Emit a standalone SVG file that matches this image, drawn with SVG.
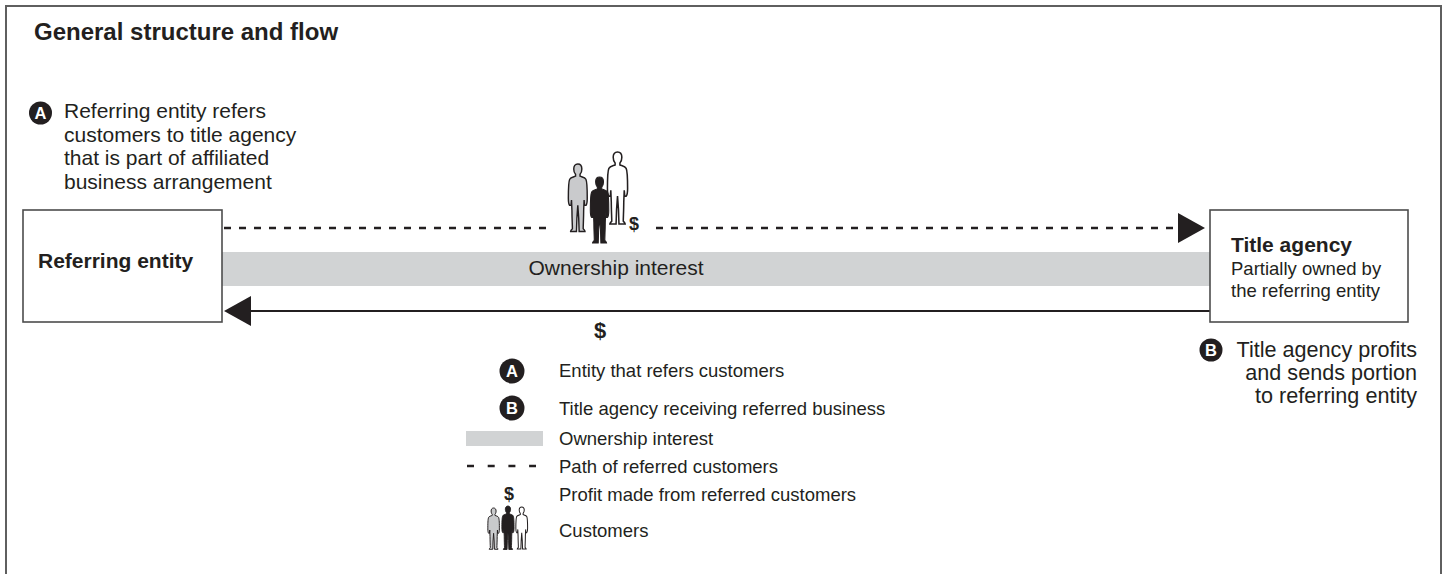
<svg xmlns="http://www.w3.org/2000/svg" xmlns:xlink="http://www.w3.org/1999/xlink" width="1447" height="574" viewBox="0 0 1447 574">
  <style>
    text { font-family: "Liberation Sans", Arial, Helvetica, sans-serif; fill: #231f20; }
    .title { font-size: 24px; font-weight: bold; }
    .note { font-size: 21px; }
    .noteR { font-size: 21.6px; text-anchor: end; }
    .bold { font-weight: bold; }
    .box { fill: #ffffff; stroke: #4d4d4d; stroke-width: 1.6; }
    .badge { fill: #231f20; }
    .badgeText { font-size: 16.5px; font-weight: bold; fill: #ffffff; text-anchor: middle; }
    .legend { font-size: 18.5px; }
    .dash { stroke: #231f20; stroke-width: 2.5; stroke-dasharray: 7 8; fill: none; }
    .solid { stroke: #231f20; stroke-width: 2; fill: none; }
    .band { fill: #d1d3d4; }
    .pGray { fill: #c9cacc; stroke: #231f20; }
    .pBlack { fill: #231f20; stroke: #231f20; }
    .pWhite { fill: #ffffff; stroke: #231f20; }
  </style>
  <defs>
    <path id="person" d="M12,0 C15,0 16.5,2.5 16.5,5.5 C16.5,8.5 15.5,10.5 14.5,11.5 L14.5,13.5 C17,14.5 20,15 21,17 C22.5,20 22.5,30 22.5,38 C22.5,42 22,45 21,46 L19.5,46 L19,40 L18.5,52 C18.5,60 18,68 18,72 C19,73 20,74 20,75 L13.5,75 L13,60 L12,46 L11,60 L10.5,75 L4,75 C4,74 5,73 6,72 C6,68 5.5,60 5.5,52 L5,40 L4.5,46 L3,46 C2,45 1.5,42 1.5,38 C1.5,30 1.5,20 3,17 C4,15 7,14.5 9.5,13.5 L9.5,11.5 C8.5,10.5 7.5,8.5 7.5,5.5 C7.5,2.5 9,0 12,0 Z"/>
  </defs>

  <!-- outer frame -->
  <rect x="6" y="6" width="1435" height="600" fill="#ffffff" stroke="#5f5f5f" stroke-width="2"/>

  <text class="title" x="34" y="40">General structure and flow</text>

  <!-- annotation A -->
  <g id="note-a">
    <circle class="badge" cx="40.5" cy="113" r="11.5"/>
    <text class="badgeText" x="40.5" y="119">A</text>
    <text class="note" x="64" y="118">Referring entity refers</text>
    <text class="note" x="64" y="141.5">customers to title agency</text>
    <text class="note" x="64" y="165">that is part of affiliated</text>
    <text class="note" x="64" y="188.5">business arrangement</text>
  </g>

  <!-- connectors -->
  <g id="connectors">
    <rect class="band" x="222" y="252" width="988" height="34"/>
    <text class="note" x="616" y="275" text-anchor="middle">Ownership interest</text>
    <line class="dash" x1="224" y1="228" x2="553" y2="228"/>
    <line class="dash" x1="656" y1="228" x2="1179" y2="228"/>
    <polygon points="1178,213 1205,228 1178,243" fill="#231f20"/>
    <line class="solid" x1="250" y1="311" x2="1210" y2="311"/>
    <polygon points="224,311 251,296 251,326" fill="#231f20"/>
    <text class="bold" x="600" y="338" font-size="22" text-anchor="middle">$</text>
  </g>

  <!-- customers on the path -->
  <g id="customers">
    <use xlink:href="#person" class="pWhite" stroke-width="1.6" transform="translate(606,152) scale(0.96)"/>
    <use xlink:href="#person" class="pGray" stroke-width="1.6" transform="translate(567,164) scale(0.9)"/>
    <use xlink:href="#person" class="pBlack" stroke-width="1.2" transform="translate(589,177) scale(0.88)"/>
    <text class="bold" x="634" y="230" font-size="18" text-anchor="middle">$</text>
  </g>

  <!-- nodes -->
  <g id="referring-entity">
    <rect class="box" x="23" y="210" width="199" height="112"/>
    <text class="note bold" x="38" y="268">Referring entity</text>
  </g>

  <g id="title-agency">
    <rect class="box" x="1210" y="210" width="198" height="112"/>
    <text class="bold" x="1231" y="252" font-size="21">Title agency</text>
    <text x="1231" y="275" font-size="18.5">Partially owned by</text>
    <text x="1231" y="297" font-size="18.5">the referring entity</text>
  </g>

  <!-- annotation B -->
  <g id="note-b">
    <circle class="badge" cx="1211" cy="350" r="11.5"/>
    <text class="badgeText" x="1211" y="356">B</text>
    <text class="noteR" x="1417" y="357">Title agency profits</text>
    <text class="noteR" x="1417" y="380">and sends portion</text>
    <text class="noteR" x="1417" y="403">to referring entity</text>
  </g>

  <!-- legend -->
  <g id="legend">
    <circle class="badge" cx="512" cy="371" r="12.5"/>
    <text class="badgeText" x="512" y="377">A</text>
    <text class="legend" x="559" y="377">Entity that refers customers</text>

    <circle class="badge" cx="512" cy="408" r="12.5"/>
    <text class="badgeText" x="512" y="414">B</text>
    <text class="legend" x="559" y="415">Title agency receiving referred business</text>

    <rect class="band" x="466" y="431" width="77" height="15"/>
    <text class="legend" x="559" y="445">Ownership interest</text>

    <line x1="467" y1="466" x2="536" y2="466" stroke="#231f20" stroke-width="2.5" stroke-dasharray="7 13.7"/>
    <text class="legend" x="559" y="473">Path of referred customers</text>

    <text class="bold" x="509" y="500" font-size="18" text-anchor="middle">$</text>
    <text class="legend" x="559" y="501">Profit made from referred customers</text>

    <use xlink:href="#person" class="pGray" stroke-width="1.8" transform="translate(487,508) scale(0.55)"/>
    <use xlink:href="#person" class="pBlack" stroke-width="1.5" transform="translate(501,506) scale(0.58)"/>
    <use xlink:href="#person" class="pWhite" stroke-width="1.8" transform="translate(515,507) scale(0.56)"/>
    <text class="legend" x="559" y="537">Customers</text>
  </g>
</svg>
